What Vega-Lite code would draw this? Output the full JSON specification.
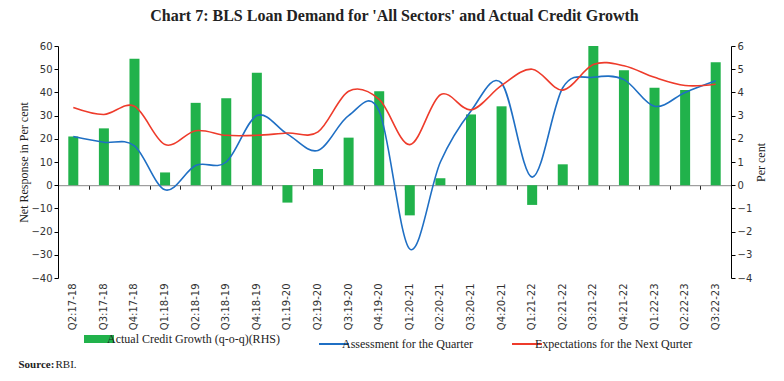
{
  "$schema": "https://vega.github.io/schema/vega-lite/v6.json",
  "width": 673,
  "height": 232,
  "autosize": {"type": "none"},
  "padding": {"left": 58, "top": 46, "right": 53, "bottom": 103},
  "background": "white",
  "title": {
    "text": "Chart 7: BLS Loan Demand for 'All Sectors' and Actual Credit Growth",
    "font": "Liberation Serif",
    "fontSize": 16,
    "fontWeight": "bold",
    "color": "#222222",
    "anchor": "middle",
    "offset": 17
  },
  "data": {
    "values": [
      {"q": "Q2:17-18", "credit": 2.1, "assess": 21, "expect": 33.5},
      {"q": "Q3:17-18", "credit": 2.45, "assess": 18.5, "expect": 30.5},
      {"q": "Q4:17-18", "credit": 5.45, "assess": 17, "expect": 34},
      {"q": "Q1:18-19", "credit": 0.55, "assess": -2, "expect": 17.5},
      {"q": "Q2:18-19", "credit": 3.55, "assess": 8.5, "expect": 23.5},
      {"q": "Q3:18-19", "credit": 3.75, "assess": 10, "expect": 21.5},
      {"q": "Q4:18-19", "credit": 4.85, "assess": 30, "expect": 21.5},
      {"q": "Q1:19-20", "credit": -0.75, "assess": 22, "expect": 22.5},
      {"q": "Q2:19-20", "credit": 0.7, "assess": 15, "expect": 23},
      {"q": "Q3:19-20", "credit": 2.05, "assess": 30, "expect": 40.5},
      {"q": "Q4:19-20", "credit": 4.05, "assess": 32, "expect": 37},
      {"q": "Q1:20-21", "credit": -1.3, "assess": -27.5, "expect": 17.5},
      {"q": "Q2:20-21", "credit": 0.3, "assess": 10, "expect": 39},
      {"q": "Q3:20-21", "credit": 3.05, "assess": 32, "expect": 32.5},
      {"q": "Q4:20-21", "credit": 3.4, "assess": 44, "expect": 43},
      {"q": "Q1:21-22", "credit": -0.85, "assess": 3.5, "expect": 50},
      {"q": "Q2:21-22", "credit": 0.9, "assess": 42, "expect": 41},
      {"q": "Q3:21-22", "credit": 6.0, "assess": 46.5, "expect": 52},
      {"q": "Q4:21-22", "credit": 4.95, "assess": 45.5, "expect": 51.5},
      {"q": "Q1:22-23", "credit": 4.2, "assess": 34, "expect": 46.5},
      {"q": "Q2:22-23", "credit": 4.1, "assess": 40, "expect": 43},
      {"q": "Q3:22-23", "credit": 5.3, "assess": 45, "expect": 43.5}
    ]
  },
  "layer": [
    {
      "mark": {"type": "bar", "size": 10, "color": "#21b24b"},
      "encoding": {
        "x": {
          "field": "q",
          "type": "nominal",
          "sort": null,
          "scale": {"paddingInner": 0, "paddingOuter": 0},
          "axis": {
            "orient": "bottom",
            "labelAngle": -90,
            "labelAlign": "right",
            "labelBaseline": "middle",
            "domain": false,
            "ticks": false,
            "labelPadding": 5,
            "labelFont": "DejaVu Sans",
            "labelFontSize": 10,
            "labelColor": "#333333",
            "title": "Source:",
            "titleFont": "Liberation Serif",
            "titleFontWeight": "bold",
            "titleFontSize": 11,
            "titleColor": "#222222",
            "titleX": -40,
            "titleY": 86,
            "titleAnchor": "start",
            "titleAlign": "left",
            "titleBaseline": "middle"
          }
        },
        "y": {
          "field": "credit",
          "type": "quantitative",
          "scale": {"domain": [-4, 6], "nice": false, "zero": false},
          "axis": {
            "orient": "right",
            "values": [-4, -3, -2, -1, 0, 1, 2, 3, 4, 5, 6],
            "title": "Per cent",
            "titleAngle": -90,
            "titleX": 29,
            "titleY": 116,
            "titleAlign": "center",
            "titleBaseline": "middle",
            "titleFont": "Liberation Serif",
            "titleFontSize": 12,
            "titleFontWeight": "normal",
            "titleColor": "#222222",
            "labelFont": "DejaVu Sans",
            "labelFontSize": 10,
            "labelColor": "#333333",
            "labelPadding": 2,
            "domainColor": "#000000",
            "tickColor": "#000000",
            "tickSize": 4,
            "grid": false
          }
        },
        "color": {
          "datum": "credit",
          "type": "nominal",
          "scale": {
            "domain": ["credit", "assess", "expect"],
            "range": ["#21b24b", "#1f6fc4", "#ee3b2b"]
          },
          "legend": {
            "orient": "none",
            "legendX": 35,
            "legendY": 287,
            "direction": "horizontal",
            "title": null,
            "symbolType": "stroke",
            "symbolSize": 900,
            "symbolStrokeWidth": 2,
            "labelFont": "Liberation Serif",
            "labelFontSize": 12,
            "labelColor": "#222222",
            "labelOffset": 2,
            "labelLimit": 400,
            "columnPadding": 35,
            "labelExpr": "{'credit': 'Actual Credit Growth (q-o-q)(RHS)', 'assess': 'Assessment for the Quarter', 'expect': 'Expectations for the Next Qurter'}[datum.value]",
            "encode": {
              "symbols": {
                "update": {
                  "strokeWidth": {"signal": "datum.value === 'credit' ? 8 : 2"},
                  "stroke": {"scale": "color", "field": "value"}
                }
              }
            }
          }
        }
      }
    },
    {
      "transform": [{"fold": ["assess", "expect"], "as": ["series", "value"]}],
      "mark": {"type": "line", "interpolate": "cardinal", "strokeWidth": 1.6},
      "encoding": {
        "x": {
          "field": "q",
          "type": "nominal",
          "sort": null,
          "axis": {
            "orient": "bottom",
            "offset": -92.8,
            "labels": false,
            "domain": true,
            "domainColor": "#888888",
            "ticks": true,
            "tickBand": "extent",
            "tickColor": "#222222",
            "tickSize": 4,
            "title": "RBI.",
            "titleFont": "Liberation Serif",
            "titleFontWeight": "normal",
            "titleFontSize": 11,
            "titleColor": "#222222",
            "titleX": -3,
            "titleY": 179,
            "titleAnchor": "start",
            "titleAlign": "left",
            "titleBaseline": "middle"
          }
        },
        "y": {
          "field": "value",
          "type": "quantitative",
          "scale": {"domain": [-40, 60], "nice": false},
          "axis": {
            "orient": "left",
            "values": [-40, -30, -20, -10, 0, 10, 20, 30, 40, 50, 60],
            "title": "Net Response in Per cent",
            "titleFont": "Liberation Serif",
            "titleFontSize": 12,
            "titleFontWeight": "normal",
            "titleColor": "#222222",
            "titlePadding": 0,
            "labelFont": "DejaVu Sans",
            "labelFontSize": 10,
            "labelColor": "#333333",
            "labelPadding": 2,
            "domainColor": "#000000",
            "tickColor": "#000000",
            "tickSize": 4,
            "grid": false
          }
        },
        "color": {
          "field": "series",
          "type": "nominal",
          "legend": {
            "orient": "none",
            "legendX": 35,
            "legendY": 287,
            "direction": "horizontal",
            "title": null,
            "symbolType": "stroke",
            "symbolSize": 900,
            "symbolStrokeWidth": 2,
            "labelFont": "Liberation Serif",
            "labelFontSize": 12,
            "labelColor": "#222222",
            "labelOffset": 2,
            "labelLimit": 400,
            "columnPadding": 35,
            "labelExpr": "{'credit': 'Actual Credit Growth (q-o-q)(RHS)', 'assess': 'Assessment for the Quarter', 'expect': 'Expectations for the Next Qurter'}[datum.value]",
            "encode": {
              "symbols": {
                "update": {
                  "strokeWidth": {"signal": "datum.value === 'credit' ? 8 : 2"},
                  "stroke": {"scale": "color", "field": "value"}
                }
              }
            }
          }
        }
      }
    }
  ],
  "resolve": {"scale": {"y": "independent"}, "axis": {"x": "independent"}},
  "config": {"view": {"stroke": null}}
}
